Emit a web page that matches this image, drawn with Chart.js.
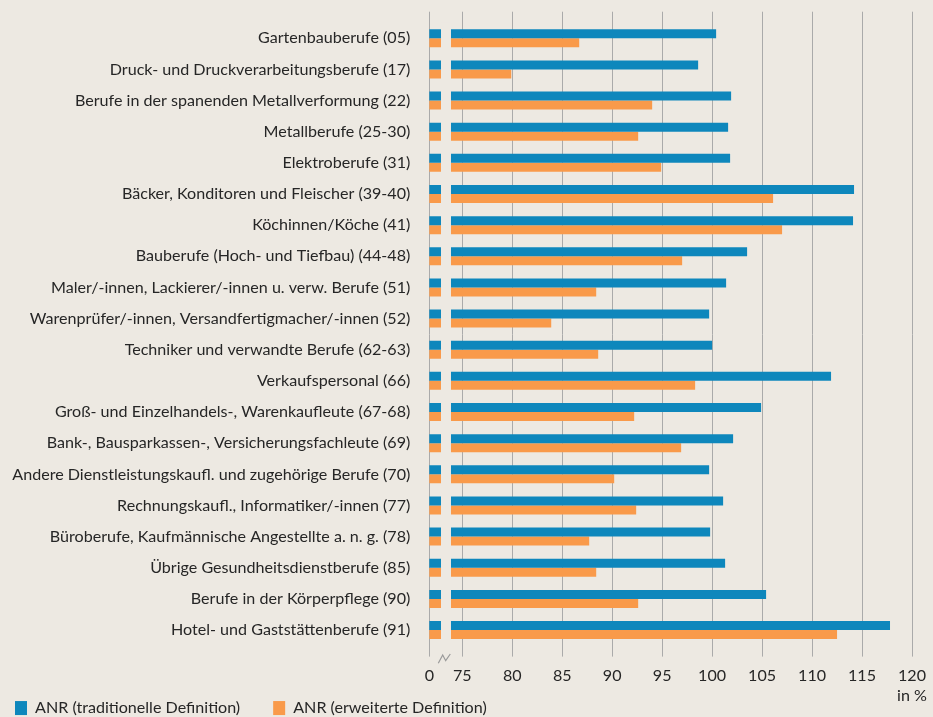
<!DOCTYPE html>
<html><head><meta charset="utf-8">
<script src="https://cdn.jsdelivr.net/npm/chart.js@4.4.1/dist/chart.umd.min.js"></script>
<style>
html,body{margin:0;padding:0;background:#EDE9E2;overflow:hidden}
#wrap{width:933px;height:717px;position:relative}
</style>
</head><body><div id="wrap"><canvas id="c"></canvas></div>
<script>
const categories = [
  'Gartenbauberufe (05)',
  'Druck- und Druckverarbeitungsberufe (17)',
  'Berufe in der spanenden Metallverformung (22)',
  'Metallberufe (25-30)',
  'Elektroberufe (31)',
  'Bäcker, Konditoren und Fleischer (39-40)',
  'Köchinnen/Köche (41)',
  'Bauberufe (Hoch- und Tiefbau) (44-48)',
  'Maler/-innen, Lackierer/-innen u. verw. Berufe (51)',
  'Warenprüfer/-innen, Versandfertigmacher/-innen (52)',
  'Techniker und verwandte Berufe (62-63)',
  'Verkaufspersonal (66)',
  'Groß- und Einzelhandels-, Warenkaufleute (67-68)',
  'Bank-, Bausparkassen-, Versicherungsfachleute (69)',
  'Andere Dienstleistungskaufl. und zugehörige Berufe (70)',
  'Rechnungskaufl., Informatiker/-innen (77)',
  'Büroberufe, Kaufmännische Angestellte a. n. g. (78)',
  'Übrige Gesundheitsdienstberufe (85)',
  'Berufe in der Körperpflege (90)',
  'Hotel- und Gaststättenberufe (91)'
];
const seriesNames = ['ANR (traditionelle Definition)', 'ANR (erweiterte Definition)'];
const traditionalValues = [100.4, 98.6, 101.9, 101.6, 101.8, 114.2, 114.1, 103.5, 101.4, 99.7, 100.0, 111.9, 104.9, 102.1, 99.7, 101.1, 99.8, 101.3, 105.4, 117.8];
const extendedValues    = [86.7, 79.9, 94.0, 92.6, 94.9, 106.1, 107.0, 97.0, 88.4, 83.9, 88.6, 98.3, 92.2, 96.9, 90.2, 92.4, 87.7, 88.4, 92.6, 112.5];
const tickValues = [75, 80, 85, 90, 95, 100, 105, 110, 115, 120];
const zeroTickLabel = '0';
const unitLabel = 'in %';

// broken axis: the "0" is shown at this scale position, the break gap lies between these values
const axisZeroValue = 71.7;
const breakStart = 72.87;
const breakEnd = 73.87;

const BG = '#EDE9E2';
const BLUE = '#0E87BC';
const ORANGE = '#F99A4A';
const GRID = '#AAAAAA';
const TEXT = '#262626';
const FONT = 'Lato';
const FSIZE = 16.1;

const buildTicks = scale => {
  scale.ticks = [axisZeroValue, ...tickValues].map(v => ({ value: v }));
};

const breakPlugin = {
  id: 'axisBreak',
  afterDatasetsDraw(chart) {
    const ctx = chart.ctx, x = chart.scales.x, a = chart.chartArea;
    const x0 = x.getPixelForValue(breakStart), x1 = x.getPixelForValue(breakEnd);
    ctx.save();
    ctx.fillStyle = BG;
    ctx.fillRect(x0, a.top, x1 - x0, a.bottom - a.top);
    const cx = (x0 + x1) / 2, by = a.bottom;
    ctx.strokeStyle = '#9A9A9A';
    ctx.lineWidth = 1.2;
    ctx.beginPath();
    ctx.moveTo(cx - 7.7, by + 17.7);
    ctx.lineTo(cx - 3.3, by + 9.4);
    ctx.lineTo(cx - 0.3, by + 15.1);
    ctx.lineTo(cx + 4.3, by + 8.4);
    ctx.stroke();
    ctx.restore();
  }
};

const legendPlacePlugin = {
  id: 'legendPlace',
  afterLayout(chart) {
    const lg = chart.legend;
    const pad = lg.options.labels.padding;
    lg.left = 15 - pad;
    lg.right = lg.left + 905;
    lg.top = 700 - pad;
    lg.bottom = 760;
  }
};

new Chart(document.getElementById('c'), {
  type: 'bar',
  data: {
    labels: categories,
    datasets: [
      { label: seriesNames[0], data: traditionalValues, backgroundColor: BLUE, borderWidth: 0 },
      { label: seriesNames[1], data: extendedValues, backgroundColor: ORANGE, borderWidth: 0 }
    ]
  },
  options: {
    indexAxis: 'y',
    responsive: true,
    maintainAspectRatio: false,
    devicePixelRatio: 1,
    animation: false,
    categoryPercentage: 0.578,
    barPercentage: 1,
    layout: { padding: { top: 11.7, right: 21, bottom: 10.3, left: 0 } },
    scales: {
      x: {
        type: 'linear',
        position: 'bottom',
        min: axisZeroValue,
        max: tickValues[tickValues.length - 1],
        afterBuildTicks: buildTicks,
        afterFit: s => { s.height = 60.1; s.paddingRight = 0; s.paddingLeft = 0; },
        grid: { color: GRID, lineWidth: 1, drawTicks: true, tickLength: 11 },
        border: { display: false },
        ticks: {
          padding: 10,
          color: TEXT,
          font: { family: FONT, size: FSIZE },
          maxRotation: 0,
          autoSkip: false,
          callback: v => {
            if (Math.abs(v - axisZeroValue) < 1e-6) return zeroTickLabel;
            if (v === tickValues[tickValues.length - 1]) return [String(v), unitLabel];
            return String(v);
          }
        }
      },
      x2: {
        type: 'linear',
        position: 'top',
        min: axisZeroValue,
        max: tickValues[tickValues.length - 1],
        afterBuildTicks: buildTicks,
        afterFit: s => { s.height = 11; s.paddingRight = 0; s.paddingLeft = 0; },
        grid: { color: GRID, lineWidth: 1, drawOnChartArea: false, drawTicks: true, tickLength: 11 },
        border: { display: false },
        ticks: { display: false }
      },
      y: {
        type: 'category',
        grid: { display: false },
        border: { display: false },
        afterFit: s => { s.width = 429.3; },
        ticks: {
          padding: 11,
          color: TEXT,
          font: { family: FONT, size: FSIZE },
          autoSkip: false
        }
      }
    },
    plugins: {
      tooltip: { enabled: false },
      legend: {
        position: 'bottom',
        align: 'start',
        maxHeight: 1,
        labels: {
          boxWidth: 12,
          boxHeight: 14,
          padding: 33,
          color: TEXT,
          font: { family: FONT, size: FSIZE }
        }
      }
    }
  },
  plugins: [breakPlugin, legendPlacePlugin]
});
</script>
</body></html>
